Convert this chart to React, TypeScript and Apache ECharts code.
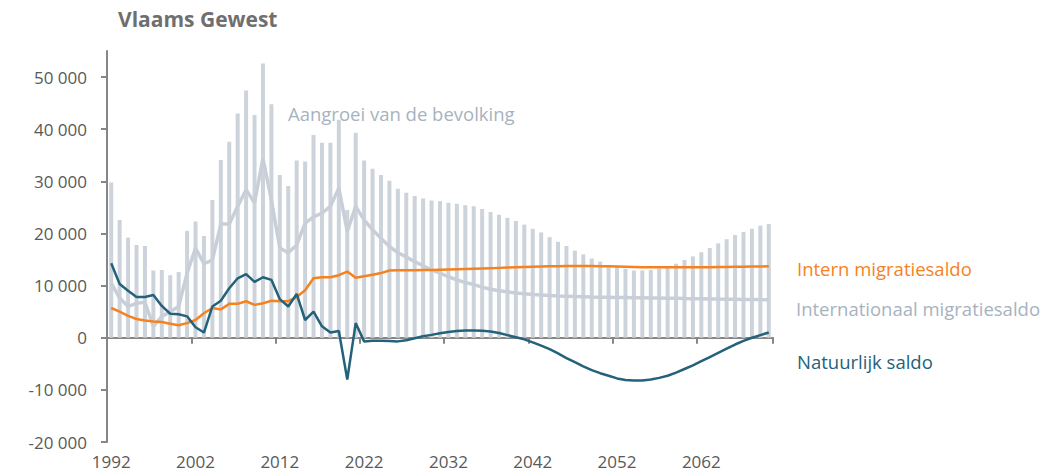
import React, { useEffect, useRef } from 'react';
import * as echarts from 'echarts';

const FIRST_YEAR = 1992;
const LAST_YEAR = 2070;
const years: string[] = [];
for (let y = FIRST_YEAR; y <= LAST_YEAR; y++) years.push(String(y));

// Aangroei van de bevolking (bars)
const growth = [
  29800, 22600, 19200, 17800, 17600, 12900, 13000, 12000, 12600, 20500,
  22300, 19500, 26400, 34100, 37600, 43000, 47400, 42700, 52600, 44800,
  31200, 29100, 34000, 33800, 38900, 37400, 37400, 41800, 24500, 39300,
  34000, 32400, 31200, 30100, 28600, 27800, 27200, 26700, 26300, 26200,
  25900, 25700, 25400, 25200, 24700, 24100, 23600, 23000, 22400, 21700,
  20900, 20200, 19300, 18400, 17600, 16700, 16000, 15200, 14600, 13900,
  13700, 13200, 12900, 12900, 13000, 13300, 13500, 14200, 14900, 15600,
  16400, 17200, 18100, 18900, 19700, 20300, 20900, 21500, 21800,
];

// Internationaal migratiesaldo
const international = [
  10500, 7600, 6000, 6600, 6800, 2200, 4100, 5000, 6000, 12400,
  17200, 14200, 14900, 21800, 21800, 25200, 28400, 25900, 34400, 26400,
  17200, 16300, 17800, 22000, 23200, 23900, 25200, 28700, 20400, 25200,
  22600, 20700, 19100, 17500, 16300, 15500, 14600, 13800, 13000, 12400,
  11700, 11100, 10600, 10200, 9700, 9300, 9000, 8800, 8600, 8450,
  8300, 8200, 8100, 8000, 7950, 7900, 7850, 7800, 7780, 7750,
  7720, 7700, 7680, 7650, 7620, 7600, 7580, 7550, 7520, 7500,
  7480, 7450, 7420, 7400, 7380, 7350, 7330, 7310, 7300,
];

// Intern migratiesaldo
const internal = [
  5700, 5000, 4200, 3600, 3300, 3100, 3000, 2700, 2400, 2800,
  3400, 4700, 5700, 5400, 6500, 6500, 7000, 6300, 6600, 7100,
  7000, 7000, 7800, 9100, 11400, 11600, 11600, 12000, 12700, 11500,
  11800, 12100, 12400, 12900, 12950, 12950, 12950, 13000, 13000, 13050,
  13100, 13150, 13200, 13250, 13300, 13350, 13400, 13450, 13500, 13550,
  13600, 13650, 13700, 13700, 13750, 13750, 13750, 13750, 13700, 13700,
  13650, 13600, 13550, 13500, 13500, 13500, 13500, 13500, 13500, 13500,
  13500, 13500, 13550, 13550, 13600, 13600, 13650, 13650, 13700,
];

// Natuurlijk saldo
const natural = [
  14300, 10300, 9000, 7800, 7800, 8200, 6100, 4600, 4500, 4100,
  2000, 1000, 6000, 7100, 9500, 11400, 12200, 10700, 11600, 11100,
  7400, 6000, 8400, 3400, 5000, 2200, 1000, 1300, -8000, 2800,
  -700, -600, -600, -650, -700, -500, -100, 300, 550, 850,
  1100, 1300, 1400, 1400, 1350, 1200, 900, 500, 100, -300,
  -900, -1500, -2200, -3000, -3900, -4700, -5500, -6200, -6800, -7300,
  -7800, -8100, -8200, -8200, -8000, -7700, -7300, -6700, -6000, -5300,
  -4500, -3700, -2900, -2100, -1300, -600, 0, 500, 1000,
];

const yTicks = [-20000, -10000, 0, 10000, 20000, 30000, 40000, 50000];

const fmt = (v: number) => {
  const a = Math.abs(v);
  let s: string;
  if (a >= 1000) {
    const th = Math.floor(a / 1000);
    const rest = String(a % 1000).padStart(3, '0');
    s = th + ' ' + rest;
  } else s = String(a);
  return (v < 0 ? '-' : '') + s;
};

const FONT = 'Open Sans';
const AXIS = '#868686';
const BAR = '#CDD3DB';
const ORANGE = '#F5821F';
const TEAL = '#23627A';
const GRAYTXT = '#A7B2C0';

export default function App() {
  const ref = useRef<HTMLDivElement>(null);
  useEffect(() => {
    if (!ref.current) return;
    const chart = echarts.init(ref.current, undefined, { renderer: 'svg' });
    chart.setOption({
      animation: false,
      textStyle: { fontFamily: FONT },
      grid: { left: 107, right: 291, top: 51, bottom: 31, containLabel: false },
      xAxis: [
        {
          type: 'category',
          data: years,
          boundaryGap: true,
          axisLine: { show: true, onZero: true, lineStyle: { color: AXIS, width: 2 } },
          axisTick: { show: true, interval: 9, length: 6, lineStyle: { color: AXIS, width: 2 } },
          axisLabel: { show: false },
          splitLine: { show: false },
        },
        {
          type: 'category',
          data: years,
          boundaryGap: true,
          position: 'bottom',
          axisLine: { show: false, onZero: false },
          axisTick: { show: false },
          axisLabel: { interval: 9, margin: 10, fontSize: 17, lineHeight: 18, color: '#595959', fontFamily: FONT },
          splitLine: { show: false },
        },
      ],
      yAxis: {
        type: 'value',
        min: -20000,
        max: 55000,
        interval: 10000,
        axisLine: { show: true, lineStyle: { color: AXIS, width: 2 } },
        axisTick: { show: true, length: 6, customValues: yTicks, lineStyle: { color: AXIS, width: 2 } },
        axisLabel: {
          customValues: yTicks,
          margin: 20,
          fontSize: 17,
          color: '#595959',
          fontFamily: FONT,
          formatter: (v: number) => (v > 50000 ? '' : fmt(v)),
        },
        splitLine: { show: false },
      },
      series: [
        {
          name: 'Aangroei van de bevolking',
          type: 'bar',
          data: growth,
          barWidth: 4,
          itemStyle: { color: BAR },
          z: 1,
        },
        {
          name: 'Internationaal migratiesaldo',
          type: 'line',
          data: international,
          showSymbol: false,
          lineStyle: { color: '#C9CFD8', width: 3.5 },
          z: 2,
        },
        {
          name: 'Intern migratiesaldo',
          type: 'line',
          data: internal,
          showSymbol: false,
          lineStyle: { color: ORANGE, width: 2.5 },
          z: 3,
        },
        {
          name: 'Natuurlijk saldo',
          type: 'line',
          data: natural,
          showSymbol: false,
          lineStyle: { color: TEAL, width: 2.5 },
          z: 4,
        },
      ],
      graphic: [
        {
          type: 'text', x: 118, y: 19,
          style: { text: 'Vlaams Gewest', fill: '#6F6F6F', fontFamily: FONT, fontWeight: 'bold', fontSize: 21, verticalAlign: 'middle' },
        },
        {
          type: 'text', x: 288, y: 113,
          style: { text: 'Aangroei van de bevolking', fill: GRAYTXT, fontFamily: FONT, fontSize: 18.5, verticalAlign: 'middle' },
        },
        {
          type: 'text', x: 797, y: 268,
          style: { text: 'Intern migratiesaldo', fill: ORANGE, fontFamily: FONT, fontSize: 18.5, verticalAlign: 'middle' },
        },
        {
          type: 'text', x: 796, y: 308,
          style: { text: 'Internationaal migratiesaldo', fill: GRAYTXT, fontFamily: FONT, fontSize: 18.5, verticalAlign: 'middle' },
        },
        {
          type: 'text', x: 797, y: 361,
          style: { text: 'Natuurlijk saldo', fill: TEAL, fontFamily: FONT, fontSize: 18.5, verticalAlign: 'middle' },
        },
      ],
    });
    return () => chart.dispose();
  }, []);
  return (
    <div
      ref={ref}
      style={{ position: 'fixed', left: 0, top: 0, width: 1064, height: 473, background: '#fff' }}
    />
  );
}
